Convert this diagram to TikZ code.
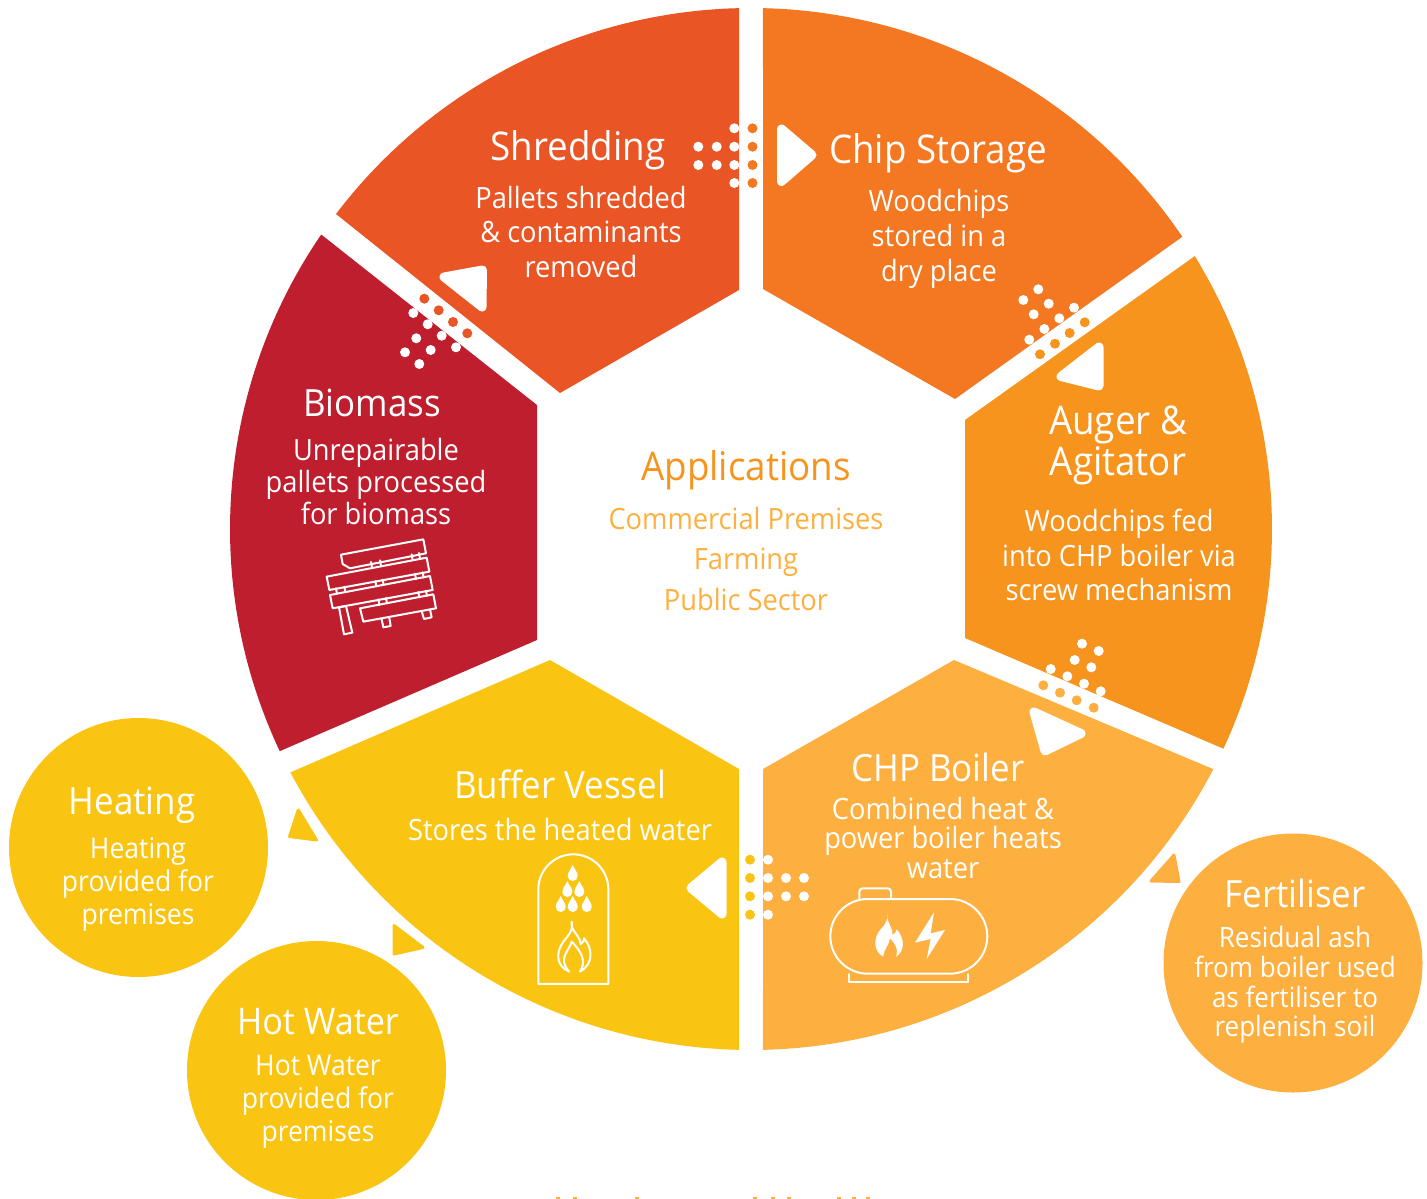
\documentclass[tikz,border=0pt]{standalone}
\usepackage{fontspec}
\setmainfont[FakeStretch=0.93]{Open Sans}
\definecolor{cshred}{HTML}{E95525}
\definecolor{cchip}{HTML}{F47721}
\definecolor{cauger}{HTML}{F7941D}
\definecolor{cchp}{HTML}{FDB03F}
\definecolor{cbuffer}{HTML}{FAC512}
\definecolor{cbio}{HTML}{BE1E2D}
\tikzset{
  head/.style={text=white,inner sep=0pt,align=center,font=\fontsize{37.5}{41}\selectfont},
  headbig/.style={text=white,inner sep=0pt,align=center,font=\fontsize{39.5}{41}\selectfont},
  bodytxt/.style 2 args={text=white,inner sep=0pt,align=center,font=\fontsize{#1}{#2}\selectfont},
  tipw/.style={fill=white,draw=white,line width=9pt,line join=round},
  tipc/.style={fill=#1,draw=#1,line width=3pt,line join=round},
  icon/.style={draw=white,line width=2pt,line join=round,line cap=round},
  disc/.style={circle,minimum size=259pt,inner sep=0pt,fill=#1,draw=none},
}
\newcommand{\drop}[2]{\fill[white] (#1,#2) .. controls (#1+1.5,#2+4) and (#1+5,#2+7) .. (#1+5,#2+11) arc[start angle=0,end angle=180,radius=5] .. controls (#1-5,#2+7) and (#1-1.5,#2+4) .. (#1,#2) -- cycle;}
\begin{document}
\begin{tikzpicture}[x=1pt,y=-1pt]
\path[use as bounding box] (0,0) rectangle (1427,1199);
\coordinate (C) at (751,529);
% wedges
\fill[cshred] ([shift={(C)}]268.68:521) arc[start angle=268.68,end angle=217.2,radius=521] -- (560,393) -- (739,290) -- cycle;
\fill[cchip] ([shift={(C)}]271.32:521) arc[start angle=271.32,end angle=325.88,radius=521] -- (955,399) -- (763,289) -- cycle;
\fill[cauger] ([shift={(C)}]-31.59:521) arc[start angle=-31.59,end angle=24.94,radius=521] -- (965,638) -- (965,420) -- cycle;
\fill[cchp] ([shift={(C)}]27.45:521) arc[start angle=27.45,end angle=88.68,radius=521] -- (763,769) -- (954,660) -- cycle;
\fill[cbuffer] ([shift={(C)}]91.32:521) arc[start angle=91.32,end angle=152.15,radius=521] -- (550,660) -- (739,769) -- cycle;
\fill[cbio] ([shift={(C)}]154.76:521) arc[start angle=154.76,end angle=214.42,radius=521] -- (537,405) -- (537,640) -- cycle;
% discs
\node[disc=cbuffer] (heatdisc) at (138.5,847.5) {};
\node[disc=cbuffer] (waterdisc) at (316.5,1070.5) {};
\node[disc=cchp] (fertdisc) at (1293,963) {};
% small triangles
\path[tipc=cbuffer] (298.3,810) -- (316.5,840) -- (289.5,836.5) -- cycle;
\path[tipc=cbuffer] (394,925.5) -- (423,947.5) -- (394,954) -- cycle;
\path[tipc=cchp] (1174,855) -- (1179,881.5) -- (1151,881) -- cycle;
% white triangles
\path[tipw] (781.5,129) -- (812,155) -- (781.5,181.5) -- cycle;
\path[tipw] (444,277) -- (482.5,270) -- (482,307) -- cycle;
\path[tipw] (1099,347) -- (1099,386) -- (1061,376.5) -- cycle;
\path[tipw] (1034,712) -- (1081,733.5) -- (1045,751) -- cycle;
\path[tipw] (691,888) -- (722,862) -- (722,914) -- cycle;
% dots
\foreach \x/\y in {698.3/146.7,698.3/165,716.7/146.7,716.7/165,734.3/128.3,734.3/146.7,734.3/165,734.3/183,
  413.3/313,427.7/324.3,441.7/335.7,456/347.3,416.3/338.3,430.7/350,405/352.3,419.3/364,
  1038.3/289.3,1023.3/300,1048.7/303.7,1033.7/314.3,1059.3/318.3,1044.3/329,1029.3/339.7,1074/307.7,
  1082/643.7,1098.7/651,1074.7/660,1091.3/667.3,1050.7/669,1067.3/676.3,1084/683.7,1100.7/691.3,
  768/859.7,768/878,768/896.3,768/914.7,786/878,786/896.3,804/878,804/896.3}
  \fill[white] (\x,\y) circle[radius=5];
\foreach \x/\y in {752.5/128.3,752.5/146.7,752.5/165,752.5/183} \fill[cchip] (\x,\y) circle[radius=5];
\foreach \x/\y in {424.3/298.7,438.7/310.3,453/322,467.3/333.3} \fill[cshred] (\x,\y) circle[radius=5];
\foreach \x/\y in {1084.7/322.3,1069.7/333,1055/343.7,1040/354.3} \fill[cauger] (\x,\y) circle[radius=5];
\foreach \x/\y in {1043.3/685.3,1060/692.7,1076.7/700.3,1093.7/707.7} \fill[cchp] (\x,\y) circle[radius=5];
\foreach \x/\y in {750/859.7,750/878,750/896.3,750/914.7} \fill[cbuffer] (\x,\y) circle[radius=5];
% texts
\node[headbig] (shredh) at (578,150) {Shredding};
\node[bodytxt={29.3}{34.5}] (shredb) at (581,232) {Pallets shredded\\\& contaminants\\removed};
\node[headbig] (chiph) at (938,153) {Chip Storage};
\node[bodytxt={29.3}{35}] (chipb) at (939,239) {Woodchips\\stored in a\\dry place};
\node[headbig] (augerh) at (1118,445.5) {Auger \&\\Agitator};
\node[bodytxt={29.3}{34.5}] (augerb) at (1119,555) {Woodchips fed\\into CHP boiler via\\screw mechanism};
\node[head] (bioh) at (372,403) {Biomass};
\node[bodytxt={29.3}{32}] (biob) at (376,482) {Unrepairable\\pallets processed\\for biomass};
\node[head] (chph) at (938,767) {CHP Boiler};
\node[bodytxt={29.3}{29.5}] (chpb) at (943,838) {Combined heat \&\\power boiler heats\\water};
\node[head] (bufh) at (560,784) {Buffer Vessel};
\node[bodytxt={29.3}{32}] (bufb) at (560,830) {Stores the heated water};
\node[headbig,text=cauger] (apph) at (746,470) {Applications};
\node[bodytxt={29.3}{40.5},text=cchp] (appb) at (746,559) {Commercial Premises\\Farming\\Public Sector};
\node[head] (heath) at (132,805) {Heating};
\node[bodytxt={28.5}{33}] (heatb) at (138,884) {Heating\\provided for\\premises};
\node[head,font=\fontsize{36.7}{41}\selectfont] (waterh) at (318,1022) {Hot Water};
\node[bodytxt={28.5}{33}] (waterb) at (318,1102) {Hot Water\\provided for\\premises};
\node[head] (ferth) at (1295,893) {Fertiliser};
\node[bodytxt={28}{29.7}] (fertb) at (1295,985) {Residual ash\\from boiler used\\as fertiliser to\\replenish soil};
% pallet icon
\begin{scope}[shift={(300,520)},x=0.3333pt,y=-0.3333pt,icon]
\draw (123,104) -- (370,58) -- (378,100) -- (150,145) -- (128,132) -- cycle;
\draw (80,170) -- (380,113) -- (388,155) -- (88,210) -- cycle;
\draw (90,225) -- (390,168) -- (398,210) -- (98,265) -- cycle;
\draw (180,265) -- (400,223) -- (408,265) -- (190,305) -- cycle;
\draw (117,262) -- (138,258) -- (157,338) -- (132,343) -- cycle;
\draw (245,298) -- (250,322) -- (272,318) -- (268,294);
\draw (365,273) -- (372,297) -- (395,292) -- (390,268);
\draw (213,126) -- (216,142) (240,121) -- (243,137) (335,103) -- (338,120) (357,99) -- (360,116);
\draw (108,205) -- (111,221) (133,200) -- (136,216) (226,183) -- (229,199) (248,179) -- (251,195) (345,161) -- (348,177) (368,157) -- (371,173);
\draw (235,238) -- (238,254) (258,234) -- (261,250) (355,216) -- (358,232) (378,212) -- (381,228);
\end{scope}
% vessel icon
\begin{scope}[shift={(520,850)},x=0.3333pt,y=-0.3333pt]
\draw[icon] (55,402) -- (265,402) -- (265,118) arc[start angle=0,end angle=-180,radius=105] -- cycle;
\draw[icon] (155,215) .. controls (150,245) and (178,250) .. (182,282) .. controls (190,278) and (193,270) .. (192,265) .. controls (215,290) and (225,340) .. (180,365) .. controls (200,335) and (185,305) .. (155,275) .. controls (150,300) and (110,325) .. (148,365) .. controls (110,350) and (105,310) .. (130,275) .. controls (145,255) and (160,245) .. (155,215) -- cycle;
\end{scope}
\drop{572.7}{865}\drop{567.3}{881}\drop{579.3}{881}\drop{560.7}{896}\drop{572.7}{896}\drop{586.7}{896}
% tank icon
\begin{scope}[shift={(810,870)},x=0.3333pt,y=-0.3333pt]
\draw[icon] (173,87) -- (420,87) arc[start angle=-90,end angle=90,radius=112] -- (173,311) arc[start angle=90,end angle=270,radius=112] -- cycle;
\draw[icon] (148,85) -- (148,65) arc[start angle=180,end angle=270,radius=10] -- (233,55) arc[start angle=-90,end angle=0,radius=10] -- (243,85);
\draw[icon] (118,312) -- (118,335) -- (475,335) -- (475,312);
\fill[white] (232,130) .. controls (228,160) and (250,170) .. (247,195) .. controls (255,192) and (260,185) .. (260,178) .. controls (285,205) and (285,245) .. (258,260) .. controls (268,235) and (250,215) .. (240,205) .. controls (238,225) and (222,235) .. (220,260) .. controls (190,245) and (190,205) .. (210,180) .. controls (225,165) and (235,150) .. (232,130) -- cycle;
\fill[white] (372,127) -- (315,218) -- (362,207) -- (350,267) -- (405,180) -- (362,190) -- cycle;
\end{scope}
% clipped marks at the bottom edge
\foreach \x in {558,575,637,755,773,789,839,854,868} \fill[cchp] (\x-2,1197) rectangle (\x+2,1199);
\end{tikzpicture}
\end{document}
